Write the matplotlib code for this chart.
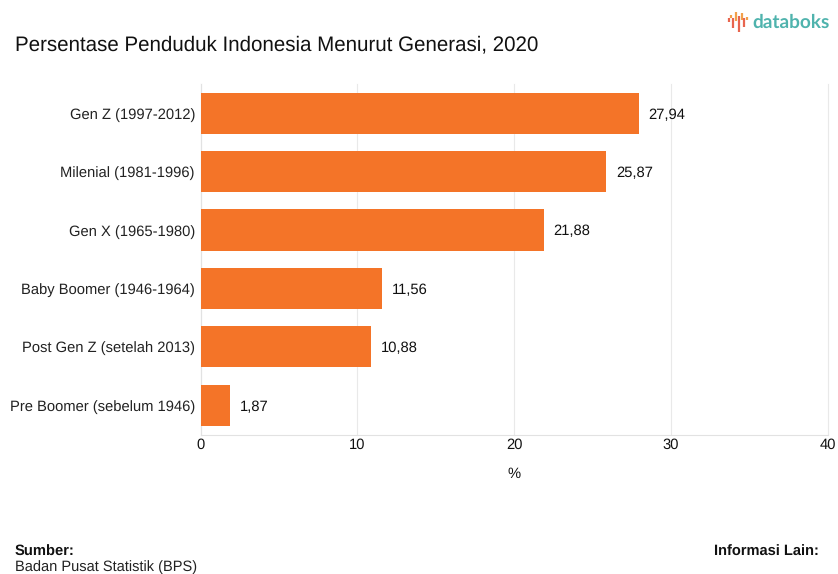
import matplotlib
matplotlib.use("Agg")
import matplotlib.pyplot as plt

categories = [
    "Gen Z (1997-2012)",
    "Milenial (1981-1996)",
    "Gen X (1965-1980)",
    "Baby Boomer (1946-1964)",
    "Post Gen Z (setelah 2013)",
    "Pre Boomer (sebelum 1946)",
]
values = [27.94, 25.87, 21.88, 11.56, 10.88, 1.87]
xticks = [0, 10, 20, 30, 40]

W, H = 838, 574
plt.rcParams["font.family"] = ["Liberation Sans", "DejaVu Sans"]
plt.rcParams["text.hinting"] = "no_hinting"

fig = plt.figure(figsize=(W / 100, H / 100), dpi=100)
ax = fig.add_axes([200.5 / W, 1 - 434.5 / H, (828 - 200.5) / W, (434.5 - 84) / H])

ypos = list(range(len(categories)))
ax.barh(ypos, values, height=0.705, color="#f47428", zorder=3)
for y, v in zip(ypos, values):
    ax.annotate(f"{v:.2f}".replace(".", ","), (v, y), xytext=(7, 0),
                textcoords="offset points", va="center_baseline", ha="left",
                fontsize=10.6, color="#111111", zorder=4)

ax.set_xlim(0, 40)
ax.set_ylim(5.5, -0.5)
ax.set_yticks(ypos)
ax.set_yticklabels(categories, fontsize=10.6, color="#222222", va="center_baseline")
ax.set_xticks(xticks)
ax.set_xticklabels([str(t) for t in xticks], fontsize=10.6, color="#111111")
ax.tick_params(axis="both", length=0)
ax.tick_params(axis="x", pad=2.5)
ax.tick_params(axis="y", pad=4)
ax.grid(axis="x", color="#e9e9e9", linewidth=0.8, zorder=0)
# the last gridline sits right on the axes edge
for line in ax.get_xgridlines():
    line.set_clip_on(False)
for side in ["top", "right"]:
    ax.spines[side].set_visible(False)
for side in ["left", "bottom"]:
    ax.spines[side].set_color("#e2e2e2")
    ax.spines[side].set_linewidth(0.8)
ax.set_xlabel("%", fontsize=10.6, color="#111111", labelpad=10.5)

fig.text(15 / W, 1 - 45 / H, "Persentase Penduduk Indonesia Menurut Generasi, 2020",
         fontsize=14.77, va="center", ha="left", color="#111111")
fig.text(15 / W, 1 - 552 / H, "Sumber:", fontsize=10.6, fontweight="bold",
         va="center", ha="left", color="#111111")
fig.text(15 / W, 1 - 567 / H, "Badan Pusat Statistik (BPS)", fontsize=10.55,
         va="center", ha="left", color="#222222")
fig.text(819 / W, 1 - 552 / H, "Informasi Lain:", fontsize=10.5, fontweight="bold",
         va="center", ha="right", color="#111111")

# brand mark: small vertical dashes next to the wordmark
logo = fig.add_axes([0, 0, 1, 1], facecolor="none")
logo.set_xlim(0, W)
logo.set_ylim(H, 0)
logo.axis("off")
dashes = [
    (728.5, 18, 21.5, "#e8654f"),
    (730.5, 15, 18, "#f2a04a"),
    (732.5, 18, 28, "#e8654f"),
    (736, 12, 21, "#f2a04a"),
    (739, 16, 32, "#e8654f"),
    (741.5, 13, 20, "#f2a04a"),
    (744, 18, 27, "#e8654f"),
    (746.5, 17, 19.5, "#f2a04a"),
]
for x, y0, y1, c in dashes:
    logo.plot([x, x], [y0, y1], color=c, linewidth=1.6, solid_capstyle="butt")
logo.text(752, 22, "databoks", fontsize=13.7, fontweight="bold", color="#4fb3ad",
          family=["Lato", "DejaVu Sans"], va="center", ha="left")

fig.savefig("out.png", dpi=100)
